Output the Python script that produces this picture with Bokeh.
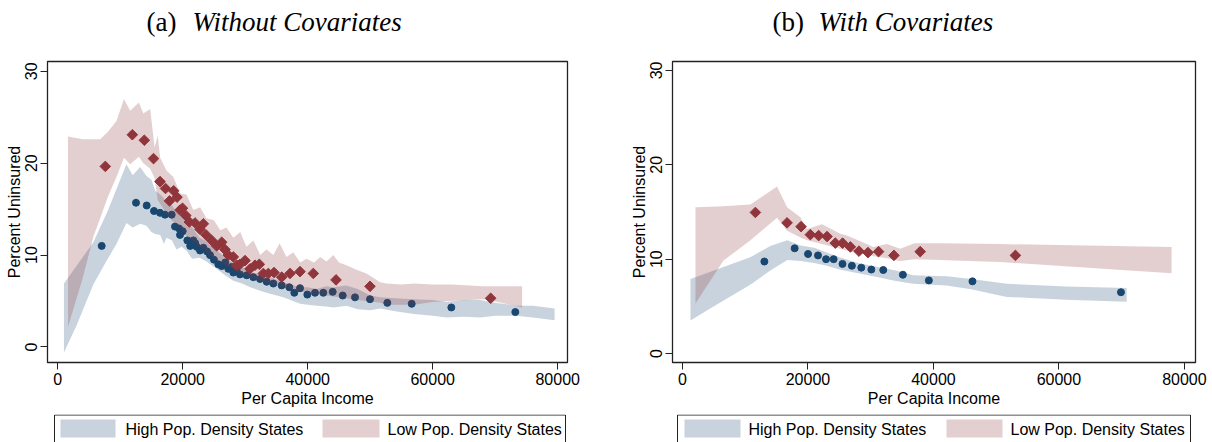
import math
from bokeh.plotting import figure
from bokeh.layouts import row, column
from bokeh.models import Range1d, FixedTicker, NumeralTickFormatter
from bokeh.core.properties import value
from bokeh.embed import file_html
from bokeh.resources import INLINE

NAVY = "#1A476F"
MAROON = "#90353B"
FONT = "Liberation Sans"
SERIF = "Liberation Serif"

# ---------------- Panel (a): Without Covariates ----------------
a_high_x = [7040, 12530, 14240, 15410, 16370, 17170, 18240, 18770, 19410, 19570, 20000, 20740,
            21200, 21700, 22000, 22240, 22770, 23300, 23900, 24370, 25000, 25700, 26240, 26800,
            27300, 27800, 28100, 28600, 29170, 30240, 31300, 32370, 33440, 34500, 35840, 37060,
            37860, 38770, 39940, 41170, 42500, 44000, 45600, 47570, 49970, 52740, 56640, 62980, 73220]
a_high_y = [11.0, 15.7, 15.4, 14.8, 14.6, 14.4, 14.4, 13.1, 12.9, 12.2, 12.6, 11.6,
            11.0, 11.6, 11.3, 10.9, 10.5, 10.8, 10.4, 10.0, 9.5, 9.0, 8.8, 9.2,
            8.5, 8.7, 8.1, 8.3, 7.9, 7.8, 7.6, 7.4, 7.1, 6.9, 6.7, 6.5,
            5.9, 6.4, 5.7, 5.9, 5.9, 6.0, 5.6, 5.4, 5.2, 4.8, 4.7, 4.3, 3.8]

a_low_x = [7620, 11940, 13860, 15330, 16370, 17250, 17890, 18550, 19090, 19570, 19970, 20500,
           21060, 21970, 22770, 23300, 23730, 24640, 25440, 26240, 26770, 27300, 28100, 28640,
           29170, 29970, 30770, 31570, 32260, 32900, 33700, 34610, 35840, 37170, 38770, 40900,
           44530, 49970, 69280]
a_low_y = [19.65, 23.1, 22.5, 20.5, 18.0, 17.25, 15.9, 17.0, 16.3, 14.9, 15.1, 14.3,
           13.6, 13.5, 12.8, 13.4, 12.2, 11.6, 11.0, 11.4, 10.6, 10.0, 9.8, 8.9,
           9.0, 9.4, 8.5, 8.9, 9.0, 8.0, 8.0, 8.1, 7.6, 8.0, 8.2, 8.0,
           7.3, 6.6, 5.3]

a_high_band_x = [1000, 3000, 5700, 8000, 9400, 11000, 12000, 13200, 14200, 15000, 15600, 16400,
                 17000, 17400, 18300, 19000, 19800, 20600, 21500, 22700, 23800, 25400, 27000,
                 28100, 29500, 30800, 32500, 34000, 36100, 38800, 40000, 41400, 43000, 44100,
                 46200, 48000, 50000, 51600, 54000, 57000, 60000, 62200, 65000, 67600, 70000,
                 73300, 76000, 79500]
a_high_band_hi = [6.9, 8.8, 11.4, 14.8, 17.2, 19.9, 18.7, 19.6, 18.6, 18.2, 17.0, 16.6,
                  16.2, 15.6, 15.4, 14.7, 14.4, 13.6, 13.0, 11.9, 11.5, 10.5, 9.7,
                  9.1, 8.7, 8.1, 7.9, 7.6, 7.05, 6.5, 6.5, 6.3, 6.6, 6.5,
                  6.7, 6.3, 5.6, 5.4, 5.3, 5.2, 5.1, 4.9, 5.1, 5.1, 4.8,
                  4.5, 4.5, 4.2]
a_high_band_lo = [-0.6, 2.3, 6.8, 9.6, 11.2, 13.5, 13.0, 13.4, 13.2, 12.5, 12.3, 12.2,
                  11.2, 11.9, 11.6, 10.6, 10.9, 10.5, 9.6, 9.7, 9.3, 8.5, 7.7,
                  7.2, 6.9, 6.5, 6.1, 5.8, 5.4, 4.7, 4.6, 4.5, 4.4, 4.3,
                  4.5, 4.1, 4.0, 4.2, 3.9, 3.6, 3.4, 3.2, 3.3, 3.2, 3.4,
                  3.4, 3.2, 2.9]

a_low_band_x = [1650, 4000, 5700, 6800, 8000, 9400, 10600, 11600, 13000, 13700, 14800, 15500,
                16000, 16400, 17400, 18500, 19600, 20600, 21700, 22800, 23800, 25000, 26000,
                27000, 28100, 29200, 30200, 31300, 32400, 33400, 34500, 35500, 36600, 37700,
                38800, 39800, 41000, 42000, 43000, 44100, 45000, 46200, 47800, 49400, 51600,
                52600, 55000, 57000, 60000, 63000, 66000, 68000, 71000, 74300]
a_low_band_hi = [22.9, 22.6, 22.6, 22.6, 23.4, 24.6, 27.0, 25.7, 26.6, 25.4, 25.9, 21.7,
                 23.0, 20.6, 19.2, 18.5, 16.7, 16.6, 14.9, 15.2, 14.0, 13.8, 12.7,
                 13.0, 11.9, 12.5, 10.9, 11.6, 10.0, 10.6, 10.0, 11.3, 9.8, 10.3,
                 9.2, 9.6, 9.2, 9.8, 9.3, 10.0, 9.2, 8.9, 8.4, 8.0, 7.05,
                 6.9, 6.8, 6.9, 6.8, 6.8, 6.7, 6.6, 6.6, 6.6]
a_low_band_lo = [2.2, 7.5, 12.0, 14.0, 16.3, 18.5, 20.6, 19.9, 20.7, 20.0, 19.4, 18.4,
                 16.0, 15.6, 14.5, 13.6, 13.0, 12.1, 11.5, 10.9, 10.3, 9.7, 9.3,
                 8.8, 8.4, 8.0, 7.7, 7.4, 7.2, 7.0, 6.8, 6.6, 6.4, 6.2,
                 6.0, 5.9, 5.8, 5.7, 5.6, 5.5, 5.4, 5.3, 5.1, 5.0, 4.8,
                 4.6, 4.6, 4.6, 4.9, 5.0, 5.1, 5.2, 4.8, 4.3]

# ---------------- Panel (b): With Covariates ----------------
b_high_x = [13050, 17880, 20010, 21600, 22880, 24090, 25500, 27000, 28500, 30100, 32000, 35130,
            39270, 46220, 69890]
b_high_y = [9.75, 11.15, 10.55, 10.4, 10.0, 10.0, 9.5, 9.3, 9.1, 8.9, 8.85, 8.35,
            7.75, 7.65, 6.5]

b_low_x = [11620, 16670, 18900, 20380, 21700, 23040, 24360, 25520, 26750, 28130, 29560, 31250,
           33700, 37890, 53070]
b_low_y = [14.95, 13.85, 13.45, 12.6, 12.5, 12.4, 11.7, 11.7, 11.3, 10.85, 10.7, 10.8,
           10.4, 10.8, 10.4]

b_high_band_x = [1270, 5000, 10800, 14000, 16700, 18800, 21000, 23000, 25000, 28000, 31000,
                 34000, 36800, 42100, 46000, 51700, 61200, 70800]
b_high_band_hi = [7.9, 8.8, 10.2, 11.4, 12.0, 11.45, 11.2, 10.7, 10.2, 9.6, 9.2,
                  8.8, 8.3, 8.2, 7.9, 7.4, 7.1, 6.95]
b_high_band_lo = [3.5, 5.0, 7.3, 8.8, 9.9, 9.8, 9.6, 9.3, 8.9, 8.5, 8.1,
                  7.7, 7.4, 7.2, 6.8, 6.0, 5.7, 5.5]

b_low_band_x = [2070, 6530, 10830, 15070, 16670, 18790, 19850, 22240, 25150, 26220, 30460,
                32590, 34700, 37000, 41070, 50620, 77960]
b_low_band_hi = [15.5, 15.6, 15.8, 17.7, 15.5, 14.45, 13.2, 13.7, 12.7, 12.5, 11.3,
                 11.6, 11.1, 11.7, 11.7, 11.6, 11.3]
b_low_band_lo = [5.3, 9.85, 12.0, 14.4, 13.0, 12.3, 12.0, 11.6, 11.1, 10.9, 10.3,
                 10.1, 9.8, 10.0, 9.9, 9.7, 8.5]

x_ticks = [0, 20000, 40000, 60000, 80000]
y_ticks = [0, 10, 20, 30]
legend_labels = ["High Pop. Density States", "Low Pop. Density States"]
panel_tags = ["(a)", "(b)"]
panel_titles = ["Without Covariates", "With Covariates"]

TITLE_H = 42
AXIS_H = 52
LEG_H = 28


def strip(height):
    t = figure(width=1212, height=height, x_range=Range1d(0, 1212), y_range=Range1d(height, 0),
               min_border=0, x_axis_type=None, y_axis_type=None, title=None,
               output_backend="svg", toolbar_location=None)
    t.outline_line_color = None
    t.xgrid.visible = False
    t.ygrid.visible = False
    return t


def make_title_strip():
    t = strip(TITLE_H)
    tag_x = [146, 772]
    ttl_x = [192, 818]
    t.text(x=tag_x, y=[21, 21], text=panel_tags, text_font=value(SERIF),
           text_font_size="27px", text_baseline="middle", text_align="left",
           text_color="black")
    t.text(x=ttl_x, y=[21, 21], text=panel_titles, text_font=value(SERIF),
           text_font_size="27px", text_font_style="italic", text_baseline="middle",
           text_align="left", text_color="black")
    return t


def make_legend_strip():
    # legend keys: outer boxes, colour swatches, labels (one legend under each panel)
    t = strip(LEG_H)
    box_left = [54, 677]
    box_right = [565, 1190]
    t.quad(left=box_left, right=box_right, top=[0.5, 0.5], bottom=[LEG_H + 3, LEG_H + 3],
           fill_color="white", line_color="#222222", line_width=1)
    sw_left = [60, 322, 684, 946]
    sw_right = [115, 379, 740, 1002]
    sw_colors = [NAVY, MAROON, NAVY, MAROON]
    t.quad(left=sw_left, right=sw_right, top=[5] * 4, bottom=[23] * 4,
           fill_color=sw_colors, fill_alpha=0.24, line_color=None)
    t.text(x=[125, 387, 748, 1010], y=[14.5] * 4, text=legend_labels * 2,
           text_font=value(FONT), text_font_size="16px", text_baseline="middle",
           text_align="left", text_color="black")
    return t


def make_panel(frame_w, left_b, right_b, xr, yr,
               hx, hy, lx, ly, hbx, hblo, hbhi, lbx, lblo, lbhi):
    p = figure(frame_width=frame_w, frame_height=301, title=None,
               min_border_left=left_b, min_border_right=right_b,
               min_border_top=61 - TITLE_H, min_border_bottom=AXIS_H,
               x_range=Range1d(*xr), y_range=Range1d(*yr),
               output_backend="svg", toolbar_location=None)
    p.xgrid.visible = False
    p.ygrid.visible = False
    p.outline_line_color = "#222222"
    p.outline_line_width = 1.3
    p.background_fill_color = "white"
    p.border_fill_color = "white"

    p.varea(x=hbx, y1=hblo, y2=hbhi, fill_color=NAVY, fill_alpha=0.24)
    p.scatter(hx, hy, marker="circle", size=7, fill_color=NAVY, line_color=NAVY)
    p.varea(x=lbx, y1=lblo, y2=lbhi, fill_color=MAROON, fill_alpha=0.24)
    p.scatter(lx, ly, marker="square", angle=math.pi / 4, size=7.5,
              fill_color=MAROON, line_color=MAROON)

    for ax in (p.xaxis[0], p.yaxis[0]):
        ax.axis_line_color = "#222222"
        ax.major_tick_line_color = "#222222"
        ax.major_tick_out = 7
        ax.major_tick_in = 0
        ax.minor_tick_line_color = None
        ax.major_label_text_font = FONT
        ax.major_label_text_font_size = "16px"
        ax.major_label_text_color = "black"
        ax.axis_label_text_font = FONT
        ax.axis_label_text_font_size = "16px"
        ax.axis_label_text_font_style = "normal"
        ax.axis_label_text_color = "black"
    p.xaxis.ticker = FixedTicker(ticks=x_ticks)
    p.xaxis.formatter = NumeralTickFormatter(format="0")
    p.yaxis.ticker = FixedTicker(ticks=y_ticks)
    p.xaxis.axis_label = "Per Capita Income"
    p.yaxis.axis_label = "Percent Uninsured"
    p.yaxis.major_label_orientation = "vertical"
    p.xaxis.major_label_standoff = 3
    p.yaxis.major_label_standoff = 3
    p.xaxis.axis_label_standoff = 2
    p.yaxis.axis_label_standoff = 0
    return p


p1 = make_panel(520, 47, 39, (-1632, 81568), (-1.69, 31.07),
                a_high_x, a_high_y, a_low_x, a_low_y,
                a_high_band_x, a_high_band_lo, a_high_band_hi,
                a_low_band_x, a_low_band_lo, a_low_band_hi)
p2 = make_panel(523, 66, 17, (-1594, 81772), (-0.95, 30.95),
                b_high_x, b_high_y, b_low_x, b_low_y,
                b_high_band_x, b_high_band_lo, b_high_band_hi,
                b_low_band_x, b_low_band_lo, b_low_band_hi)

layout = column(make_title_strip(), row(p1, p2, spacing=0), make_legend_strip(), spacing=0)
open("out.html", "w").write(file_html(layout, INLINE))
